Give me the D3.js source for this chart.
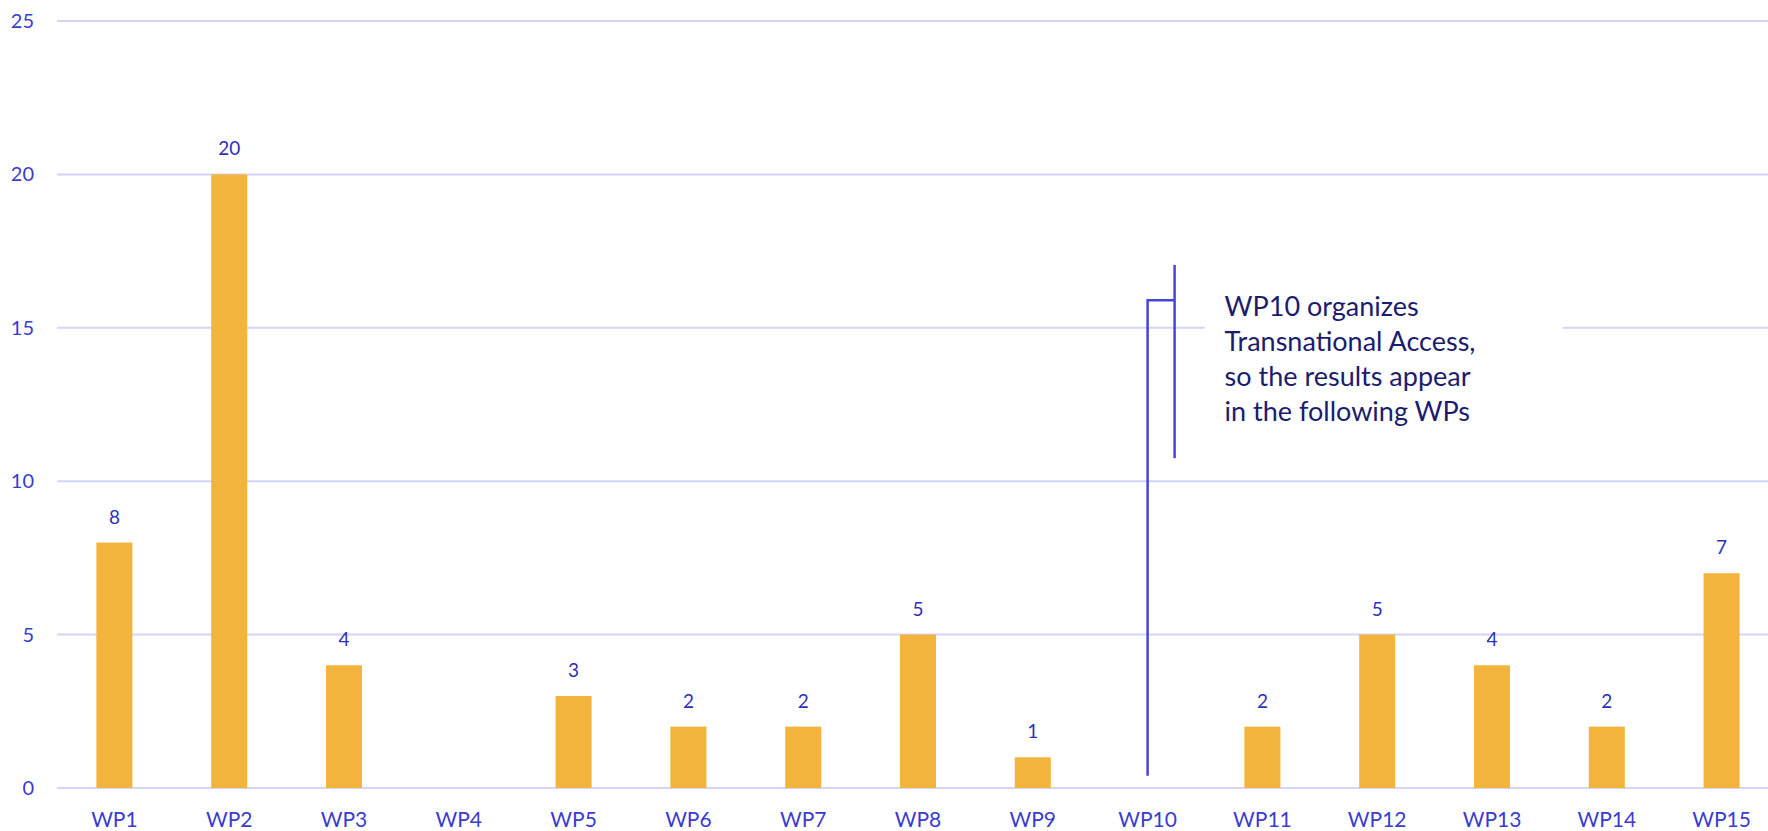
<!DOCTYPE html>
<html>
<head>
<meta charset="utf-8">
<script src="https://cdn.jsdelivr.net/npm/d3@7"></script>
<style>
  html, body { margin: 0; padding: 0; background: #fff; }
  svg { display: block; font-family: Lato, "Open Sans", sans-serif; }
</style>
</head>
<body>
<svg id="chart"></svg>
<script>
const categories = ['WP1', 'WP2', 'WP3', 'WP4', 'WP5', 'WP6', 'WP7', 'WP8', 'WP9', 'WP10', 'WP11', 'WP12', 'WP13', 'WP14', 'WP15'];
const values = [8, 20, 4, 0, 3, 2, 2, 5, 1, 0, 2, 5, 4, 2, 7];
const yTicks = [0, 5, 10, 15, 20, 25];
const noteCategory = 'WP10';
const noteLines = ['WP10 organizes', 'Transnational Access,', 'so the results appear', 'in the following WPs'];

const width = 1768,
  height = 831;

const data = categories.map((c, i) => ({cat: c, value: values[i]}));

const svg = d3.select('#chart')
  .attr('width', width)
  .attr('height', height);

const x = d3.scaleBand()
  .domain(categories)
  .range([57, 1779])
  .paddingInner(0.686)
  .paddingOuter(0.343);

const y = d3.scaleLinear()
  .domain([0, 25])
  .range([788, 21]);

// gridlines
svg.append('g')
  .selectAll('line')
  .data(yTicks)
  .enter()
    .append('line')
    .attr('x1', 57)
    .attr('x2', width)
    .attr('y1', d => y(d))
    .attr('y2', d => y(d))
    .attr('stroke', '#d4d4f7')
    .attr('stroke-width', 2);

// y labels
svg.append('g')
  .selectAll('text')
  .data(yTicks)
  .enter()
    .append('text')
    .attr('x', 34)
    .attr('y', d => y(d))
    .attr('dy', '0.35em')
    .attr('text-anchor', 'end')
    .style('font-size', '20px')
    .attr('fill', '#3b3bd0')
    .text(d => d);

// bars
svg.append('g')
  .selectAll('rect')
  .data(data)
  .enter()
    .append('rect')
    .attr('x', d => x(d.cat))
    .attr('width', x.bandwidth())
    .attr('y', d => y(d.value))
    .attr('height', d => y(0) - y(d.value))
    .attr('fill', '#f2b43c');

// value labels (zeros have none)
svg.append('g')
  .selectAll('text')
  .data(data.filter(d => d.value > 0))
  .enter()
    .append('text')
    .attr('x', d => x(d.cat) + x.bandwidth() / 2)
    .attr('y', d => y(d.value) - 19)
    .attr('text-anchor', 'middle')
    .style('font-size', '19px')
    .attr('fill', '#2f2fb8')
    .text(d => d.value);

// category labels
svg.append('g')
  .selectAll('text')
  .data(categories)
  .enter()
    .append('text')
    .attr('x', d => x(d) + x.bandwidth() / 2)
    .attr('y', 820)
    .attr('dy', '0.35em')
    .attr('text-anchor', 'middle')
    .style('font-size', '21px')
    .attr('fill', '#3b3bd0')
    .text(d => d);

// annotation
const cx = x(noteCategory) + x.bandwidth() / 2;
const note = svg.append('g');

note.append('rect')
  .attr('x', cx + 57)
  .attr('y', y(17.4))
  .attr('width', 358)
  .attr('height', y(10.9) - y(17.4))
  .attr('fill', '#fff');

note.append('path')
  .attr('d', `M${cx},${y(0.4)}V${y(15.9)}H${cx + 27}`)
  .attr('fill', 'none')
  .attr('stroke', '#4646d6')
  .attr('stroke-width', 2.5);

note.append('line')
  .attr('x1', cx + 27)
  .attr('x2', cx + 27)
  .attr('y1', y(17.05))
  .attr('y2', y(10.75))
  .attr('stroke', '#4646d6')
  .attr('stroke-width', 2.5);

note.append('g')
  .selectAll('text')
  .data(noteLines)
  .enter()
    .append('text')
    .attr('x', cx + 77)
    .attr('y', (d, i) => 307 + i * 35)
    .attr('dy', '0.35em')
    .style('font-size', '27px')
    .attr('fill', '#1c1c6e')
    .text(d => d);
</script>
</body>
</html>
